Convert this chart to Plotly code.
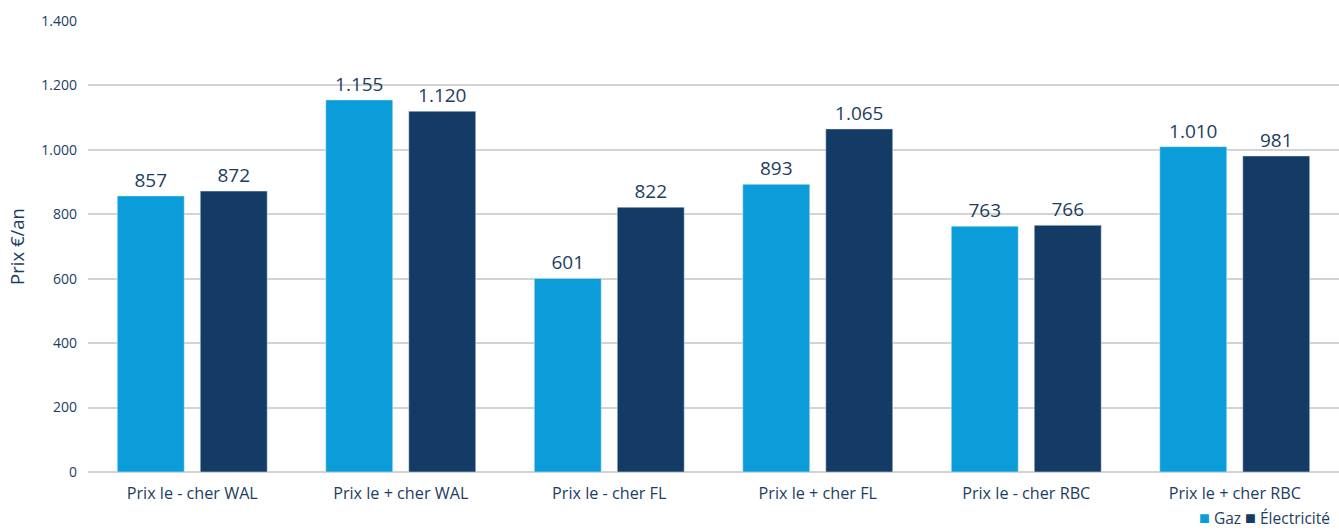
import plotly.graph_objects as go

categories = ["Prix le - cher WAL", "Prix le + cher WAL", "Prix le - cher FL",
              "Prix le + cher FL", "Prix le - cher RBC", "Prix le + cher RBC"]
gaz = [857, 1155, 601, 893, 763, 1010]
electricite = [872, 1120, 822, 1065, 766, 981]
y_ticks = [0, 200, 400, 600, 800, 1000, 1200, 1400]

TEXT = "#1d3d63"
FONT = "Open Sans"
GAZ_COLOR = "#0a9dd9"
ELEC_COLOR = "#133b66"

fig = go.Figure()
fig.add_trace(go.Bar(
    name="Gaz", x=categories, y=gaz, marker_color=GAZ_COLOR,
    texttemplate="%{y:,}", textposition="outside",
    textfont=dict(size=19, color=TEXT, family=FONT), cliponaxis=False,
))
fig.add_trace(go.Bar(
    name="Électricité", x=categories, y=electricite, marker_color=ELEC_COLOR,
    texttemplate="%{y:,}", textposition="outside",
    textfont=dict(size=19, color=TEXT, family=FONT), cliponaxis=False,
))

# compact legend in the bottom-right corner
fig.add_annotation(
    xref="paper", yref="paper", x=(1198 - 88) / 1251, y=-0.07,
    xanchor="left", yanchor="top", showarrow=False, borderpad=0,
    text=(f"<span style='color:{GAZ_COLOR};font-size:18px'>■</span> Gaz "
          f"<span style='color:{ELEC_COLOR};font-size:18px'>■</span> Électricité"),
    font=dict(size=15.5, color=TEXT, family=FONT),
)

fig.update_layout(
    width=1339, height=531,
    margin=dict(l=88, r=0, t=21, b=59, autoexpand=False),
    paper_bgcolor="white", plot_bgcolor="white",
    separators=",.",
    barmode="group", bargap=0.204, bargroupgap=0.193,
    font=dict(family=FONT, color=TEXT, size=14),
    showlegend=False,
    xaxis=dict(showline=False, ticks="", tickfont=dict(size=16.2, color=TEXT),
               ticklabelstandoff=10),
    yaxis=dict(range=[0, 1400], tickvals=y_ticks, separatethousands=True,
               showgrid=True, gridcolor="#d3d3d3", gridwidth=1.5,
               zeroline=True, zerolinecolor="#d3d3d3", zerolinewidth=1.5,
               tickfont=dict(size=14, color=TEXT), ticklabelstandoff=10,
               title=dict(text="Prix €/an", font=dict(size=18.5, color=TEXT), standoff=11)),
)

fig.write_html("out.html")
